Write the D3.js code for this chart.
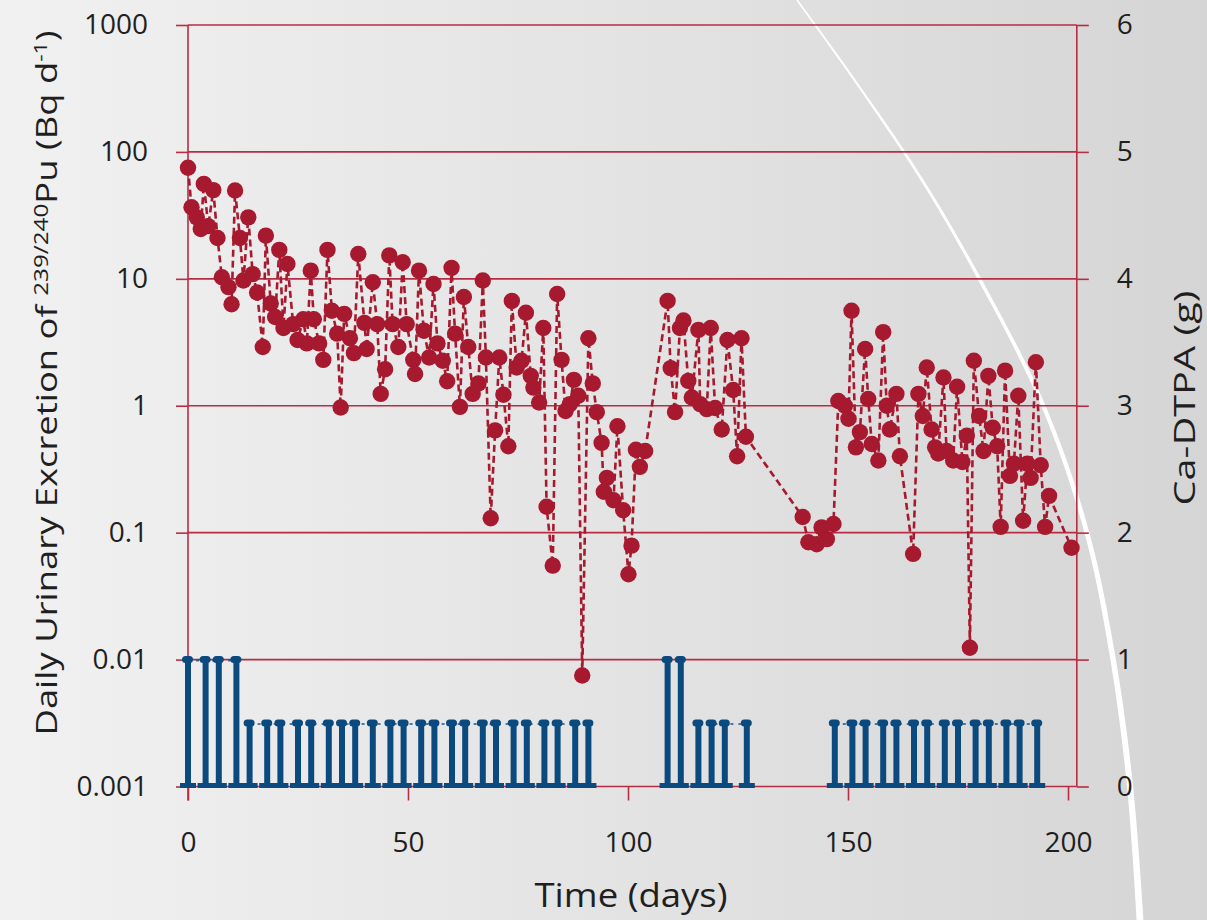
<!DOCTYPE html>
<html>
<head>
<meta charset="utf-8">
<script src="https://cdnjs.cloudflare.com/ajax/libs/d3/7.8.5/d3.min.js"></script>
<style>
  html, body { margin: 0; padding: 0; }
  body { width: 1207px; height: 920px; overflow: hidden; }
  text { font-family: "Open Sans", sans-serif; fill: #1f1f1f; }
</style>
</head>
<body>
<div id="chart"></div>
<script>
// urinary excretion of Pu (Bq/d) by day
var excretionDays = [0, 0.8, 2, 2.9, 3.6, 4.6, 5.75, 6.7, 7.7, 9.2, 9.9, 10.7, 11.8, 12.6, 13.7, 14.7, 15.7, 17, 17.7, 18.8,
  19.8, 20.75, 21.7, 22.6, 23.9, 24.9, 26.2, 27, 27.9, 28.6, 29.8, 30.75, 31.7, 32.7, 33.9, 34.7, 35.5, 36.8, 37.7, 38.7,
  40.1, 40.6, 42, 43, 43.8, 44.8, 45.75, 46.5, 47.8, 48.8, 49.7, 51.2, 51.6, 52.5, 53.6, 54.8, 55.8, 56.7, 57.9, 58.9,
  59.9, 60.7, 61.8, 62.7, 63.7, 64.7, 66, 67, 67.7, 68.8, 69.8, 70.75, 71.7, 72.8, 73.6, 74.7, 75.8, 76.8, 77.9, 78.5,
  79.8, 80.75, 81.5, 82.9, 83.9, 84.9, 85.8, 86.8, 87.7, 88.7, 89.6, 91, 92, 92.9, 94, 94.5, 95.2, 96.7, 97.6, 98.9,
  100.1, 100.8, 101.8, 102.7, 103.9, 109, 109.7, 110.7, 111.8, 112.6, 113.7, 114.5, 116, 116.4, 117.9, 118.8, 119.8, 121.3, 122.6, 123.9,
  124.8, 125.8, 126.8, 139.7, 141, 142.9, 144, 145.2, 146.7, 147.8, 149.3, 150.1, 150.8, 151.8, 152.7, 153.9, 154.6, 155.4, 156.9, 158,
  158.8, 159.5, 161, 161.8, 164.8, 166, 167, 167.9, 169, 169.8, 170.5, 171.7, 172.4, 173.9, 174.8, 176, 177, 177.7, 178.6, 179.8,
  180.8, 181.9, 182.9, 183.9, 184.7, 185.7, 186.8, 187.7, 188.7, 189.8, 190.75, 191.5, 192.7, 193.8, 194.8, 195.7, 200.8];
var excretionValues = [75, 36.6, 30.5, 24.7, 56, 26, 50, 21, 10.3, 8.6, 6.3, 49.6, 21, 9.7, 30.5, 10.9, 7.8, 2.9, 21.9, 6.4,
  5.0, 16.9, 4.1, 13.1, 4.4, 3.3, 4.8, 3.1, 11.6, 4.8, 3.1, 2.3, 16.9, 5.6, 3.7, 0.97, 5.3, 3.4, 2.6, 15.7,
  4.5, 2.8, 9.4, 4.4, 1.24, 1.94, 15.3, 4.4, 2.9, 13.5, 4.4, 2.3, 1.78, 11.6, 3.9, 2.4, 9.1, 3.1, 2.26, 1.56,
  12.2, 3.7, 0.98, 7.2, 2.9, 1.24, 1.5, 9.7, 2.4, 0.13, 0.64, 2.4, 1.22, 0.48, 6.7, 2.0, 2.26, 5.4, 1.72, 1.39,
  1.06, 4.1, 0.16, 0.055, 7.6, 2.3, 0.91, 1.03, 1.6, 1.2, 0.0075, 3.4, 1.5, 0.89, 0.51, 0.21, 0.27, 0.18, 0.69, 0.15,
  0.047, 0.079, 0.45, 0.33, 0.44, 6.7, 1.98, 0.89, 4.1, 4.7, 1.57, 1.16, 3.96, 1.03, 0.94, 4.1, 0.96, 0.65, 3.3, 1.33,
  0.40, 3.4, 0.57, 0.133, 0.084, 0.081, 0.11, 0.089, 0.117, 1.09, 1.0, 0.79, 5.6, 0.47, 0.62, 2.8, 1.13, 0.5, 0.37, 3.8,
  1.0, 0.65, 1.24, 0.40, 0.068, 1.24, 0.83, 2.0, 0.65, 0.47, 0.42, 1.67, 0.44, 0.37, 1.41, 0.36, 0.58, 0.0124, 2.26, 0.83,
  0.44, 1.72, 0.67, 0.48, 0.111, 1.89, 0.28, 0.35, 1.2, 0.124, 0.35, 0.27, 2.2, 0.34, 0.111, 0.195, 0.076];

// Ca-DTPA injections (g)
var dtpaDays = [0, 4, 7, 11, 14, 18, 21, 25, 28, 32, 35, 38, 42, 46, 49, 53, 56, 60, 63, 67, 70, 74, 77, 81, 84, 88, 91,
  109, 112, 116, 119, 122, 127,
  147, 151, 154, 158, 161, 165, 168, 172, 175, 179, 182, 186, 189, 193];
var dtpaDoses = [1, 1, 1, 1, 0.5, 0.5, 0.5, 0.5, 0.5, 0.5, 0.5, 0.5, 0.5, 0.5, 0.5, 0.5, 0.5, 0.5, 0.5, 0.5, 0.5, 0.5, 0.5, 0.5, 0.5, 0.5, 0.5,
  1, 1, 0.5, 0.5, 0.5, 0.5,
  0.5, 0.5, 0.5, 0.5, 0.5, 0.5, 0.5, 0.5, 0.5, 0.5, 0.5, 0.5, 0.5, 0.5];

var excretionTicks = [0.001, 0.01, 0.1, 1, 10, 100, 1000];
var excretionTickLabels = ['0.001', '0.01', '0.1', '1', '10', '100', '1000'];
var dtpaTicks = [0, 1, 2, 3, 4, 5, 6];
var timeTicks = [0, 50, 100, 150, 200];

var RED = '#a6192e';
var GRID = '#b82d42';
var BLUE = '#0b4a7f';

var width = 1207;
var height = 920;

var svg = d3.select('#chart').append('svg')
  .attr('width', width)
  .attr('height', height);

var defs = svg.append('defs');
var bg = defs.append('linearGradient').attr('id', 'bg')
  .attr('x1', 0).attr('x2', 1).attr('y1', 0).attr('y2', 0);
bg.append('stop').attr('offset', '0%').attr('stop-color', '#f1f1f1');
bg.append('stop').attr('offset', '60%').attr('stop-color', '#e1e1e1');
bg.append('stop').attr('offset', '100%').attr('stop-color', '#d5d5d5');

svg.append('rect')
  .attr('width', width)
  .attr('height', height)
  .attr('fill', 'url(#bg)');

var x = d3.scaleLinear().domain([0, 202]).range([188, 1076.8]);
var y = d3.scaleLog().domain([0.001, 1000]).range([786.5, 25]);
var y2 = d3.scaleLinear().domain([0, 6]).range([786.5, 25]);

// decorative slide arc, thin at the top and wider at the bottom
var arcPoints = [[797, 0], [858, 85], [922, 180], [980, 280], [1043, 405], [1087, 533], [1113, 659], [1130, 786], [1140, 920]];
var guide = svg.append('path')
  .attr('d', d3.line().curve(d3.curveCatmullRom)(arcPoints))
  .attr('fill', 'none')
  .attr('stroke', 'none');
var total = guide.node().getTotalLength();
var leftEdge = [];
var rightEdge = [];
d3.range(0, 61).forEach(function (i) {
  var t = i / 60;
  var p = guide.node().getPointAtLength(t * total);
  var q = guide.node().getPointAtLength(Math.min(total, t * total + 1));
  var r = guide.node().getPointAtLength(Math.max(0, t * total - 1));
  var dx = q.x - r.x;
  var dy = q.y - r.y;
  var len = Math.sqrt(dx * dx + dy * dy) || 1;
  var half = 0.8 + 2.6 * t;
  leftEdge.push([p.x - dy / len * half, p.y + dx / len * half]);
  rightEdge.push([p.x + dy / len * half, p.y - dx / len * half]);
});
svg.append('path')
  .attr('d', d3.line()(leftEdge.concat(rightEdge.reverse())) + 'Z')
  .attr('fill', '#ffffff');

// gridlines at every decade
svg.append('g').selectAll('line')
  .data(excretionTicks)
  .enter().append('line')
  .attr('x1', x.range()[0])
  .attr('x2', x.range()[1])
  .attr('y1', function (d) { return y(d); })
  .attr('y2', function (d) { return y(d); })
  .attr('stroke', GRID)
  .attr('stroke-width', 1.6);

// axis lines
svg.append('line')
  .attr('x1', x.range()[0]).attr('x2', x.range()[0])
  .attr('y1', 25).attr('y2', 800.5)
  .attr('stroke', GRID).attr('stroke-width', 1.6);
svg.append('line')
  .attr('x1', x.range()[1]).attr('x2', x.range()[1])
  .attr('y1', 25).attr('y2', 786.5)
  .attr('stroke', GRID).attr('stroke-width', 1.6);

function styleAxis(g) {
  g.select('.domain').remove();
  g.selectAll('.tick line').attr('stroke', GRID).attr('stroke-width', 1.6);
  g.selectAll('.tick text')
    .attr('fill', '#1f1f1f')
    .style('font-family', '"Open Sans", sans-serif')
    .style('font-size', '28px');
}

svg.append('g')
  .attr('transform', 'translate(' + x.range()[0] + ',0)')
  .call(d3.axisLeft(y)
    .tickValues(excretionTicks)
    .tickFormat(function (d, i) { return excretionTickLabels[i]; })
    .tickSize(12)
    .tickPadding(28))
  .call(styleAxis);

svg.append('g')
  .attr('transform', 'translate(' + x.range()[1] + ',0)')
  .call(d3.axisRight(y2)
    .tickValues(dtpaTicks)
    .tickFormat(d3.format('d'))
    .tickSize(12)
    .tickPadding(28))
  .call(styleAxis);

svg.append('g')
  .attr('transform', 'translate(0,' + y.range()[0] + ')')
  .call(d3.axisBottom(x)
    .tickValues(timeTicks)
    .tickFormat(d3.format('d'))
    .tickSize(14)
    .tickPadding(32))
  .call(styleAxis);

// Ca-DTPA drop bars
var doses = dtpaDays.map(function (d, i) { return { day: d, dose: dtpaDoses[i] }; });
var runs = [];
doses.forEach(function (d, i) {
  var prev = doses[i - 1];
  if (!prev || prev.dose !== d.dose || d.day - prev.day > 6) {
    runs.push([]);
  }
  runs[runs.length - 1].push(d);
});

var dtpa = svg.append('g');
dtpa.selectAll('path.top')
  .data(runs.filter(function (r) { return r.length > 1; }))
  .enter().append('path')
  .attr('class', 'top')
  .attr('d', d3.line()
    .x(function (d) { return x(d.day); })
    .y(function (d) { return y2(d.dose) + 1; }))
  .attr('fill', 'none')
  .attr('stroke', BLUE)
  .attr('stroke-width', 2)
  .attr('stroke-dasharray', '3,5')
  .attr('opacity', 0.7);

dtpa.selectAll('rect.stem')
  .data(doses)
  .enter().append('rect')
  .attr('class', 'stem')
  .attr('x', function (d) { return x(d.day) - 3; })
  .attr('y', function (d) { return y2(d.dose); })
  .attr('width', 6)
  .attr('height', function (d) { return y2(0) - y2(d.dose); })
  .attr('fill', BLUE);

dtpa.selectAll('rect.cap')
  .data(doses)
  .enter().append('rect')
  .attr('class', 'cap')
  .attr('x', function (d) { return x(d.day) - 6; })
  .attr('y', function (d) { return y2(d.dose) - 3.5; })
  .attr('width', 11)
  .attr('height', 7)
  .attr('rx', 3.5)
  .attr('fill', BLUE);

dtpa.selectAll('rect.base')
  .data(doses)
  .enter().append('rect')
  .attr('class', 'base')
  .attr('x', function (d) { return x(d.day) - 8; })
  .attr('y', y2(0) - 3.5)
  .attr('width', 16)
  .attr('height', 5)
  .attr('fill', BLUE);

// excretion series
var excretion = excretionDays.map(function (d, i) { return { day: d, value: excretionValues[i] }; });

svg.append('path')
  .datum(excretion)
  .attr('d', d3.line()
    .x(function (d) { return x(d.day); })
    .y(function (d) { return y(d.value); }))
  .attr('fill', 'none')
  .attr('stroke', RED)
  .attr('stroke-width', 2.6)
  .attr('stroke-dasharray', '7,4');

svg.append('g').selectAll('circle')
  .data(excretion)
  .enter().append('circle')
  .attr('cx', function (d) { return x(d.day); })
  .attr('cy', function (d) { return y(d.value); })
  .attr('r', 8.2)
  .attr('fill', RED);

// axis titles
var leftTitle = svg.append('text')
  .attr('transform', 'translate(57,383)rotate(-90)')
  .attr('text-anchor', 'middle')
  .attr('textLength', 705)
  .attr('lengthAdjust', 'spacingAndGlyphs')
  .style('font-size', '30px');
leftTitle.append('tspan').text('Daily Urinary Excretion of ');
leftTitle.append('tspan').attr('dy', -9).style('font-size', '20px').text('239/240');
leftTitle.append('tspan').attr('dy', 9).text('Pu (Bq d');
leftTitle.append('tspan').attr('dy', -10).style('font-size', '19px').text('-1');
leftTitle.append('tspan').attr('dy', 10).text(')');

svg.append('text')
  .attr('transform', 'translate(1195,398)rotate(-90)')
  .attr('text-anchor', 'middle')
  .attr('textLength', 215)
  .attr('lengthAdjust', 'spacingAndGlyphs')
  .style('font-size', '30px')
  .text('Ca-DTPA (g)');

svg.append('text')
  .attr('x', 631)
  .attr('y', 907)
  .attr('text-anchor', 'middle')
  .attr('textLength', 193)
  .attr('lengthAdjust', 'spacingAndGlyphs')
  .style('font-size', '32px')
  .text('Time (days)');
</script>
</body>
</html>
